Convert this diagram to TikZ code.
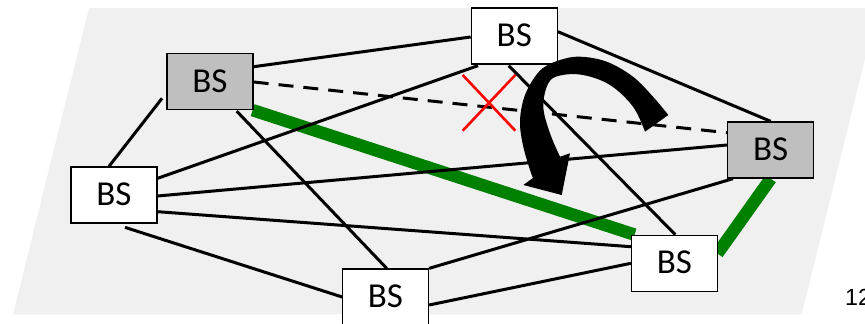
\documentclass[tikz,border=0pt]{standalone}
\usepackage{fontspec}
\setmainfont{Carlito}
\newfontfamily\pagefont{Liberation Sans}
\usetikzlibrary{calc}
\pgfdeclarelayer{bg}
\pgfsetlayers{bg,main}
\definecolor{bggray}{HTML}{F0F0F0}
\definecolor{boxgray}{HTML}{BFBFBF}
\definecolor{linkgreen}{HTML}{008000}
\tikzset{
  bsbox/.style={draw=black, line width=1.3pt, fill=white, minimum width=86pt, minimum height=56pt, inner sep=0pt, text depth=1.5pt, font=\fontsize{35}{40}\selectfont},
  bsgray/.style={bsbox, fill=boxgray},
  link/.style={line width=3pt, black},
  deadlink/.style={line width=3pt, black, dash pattern=on 15pt off 10pt},
  greenlink/.style={line width=12.5pt, linkgreen},
  cross/.style={line width=2.6pt, red},
}
\begin{document}
\begin{tikzpicture}[x=1pt, y=-1pt]
\useasboundingbox (0,0) rectangle (865,324);
% nodes
\node[bsbox]  (top) at (514.3,36)    {BS};
\node[bsgray] (tl)  at (210,81.5)    {BS};
\node[bsbox]  (lf)  at (114,195)     {BS};
\node[bsbox]  (bt)  at (385.5,297)   {BS};
\node[bsgray] (rg)  at (770.7,150)   {BS};
\node[bsbox]  (br)  at (674.5,263.3) {BS};
\begin{pgfonlayer}{bg}
  \fill[bggray] (89,8) -- (877.6,8) -- (801.7,314.3) -- (13,314.3) -- cycle;
  % green links
  \draw[greenlink] ($(tl.south east)+(-1,0)$) -- ($(br.north west)+(3.7,0)$);
  \draw[greenlink] (rg.south) -- ($(br.east)+(-0.7,-9.8)$);
  % black links
  \draw[link] ($(tl.east)+(0,-14.8)$) -- ($(top.west)+(0,1)$);
  \draw[deadlink] ($(tl.east)+(0,0.5)$) -- ($(rg.west)+(0,-17.3)$);
  \draw[link] ($(tl.south)+(26.7,1)$) -- ($(bt.north)+(1.2,0)$);
  \draw[link] ($(lf.north)+(-5,0)$) -- ($(tl.west)+(-4.3,16.8)$);
  \draw[link] ($(lf.east)+(0,-16.7)$) -- ($(top.south west)+(7.4,1)$);
  \draw[link] ($(lf.east)+(0,1)$) -- ($(rg.west)+(0,-5)$);
  \draw[link] ($(lf.east)+(0,16.7)$) -- ($(br.west)+(0,-16.6)$);
  \draw[link] ($(lf.south)+(11,3.7)$) -- ($(bt.west)+(0.3,0)$);
  \draw[link] ($(top.south)+(-5.6,1)$) -- ($(br.north)+(0.8,0)$);
  \draw[link] ($(top.east)+(0,-4.3)$) -- (rg.north);
  \draw[link] ($(rg.south west)+(6,0)$) -- (bt.north east);
  \draw[link] (br.west) -- ($(bt.east)+(0,8)$);
\end{pgfonlayer}
% red cross
\draw[cross] (462.7,75) -- (515.3,130.7);
\draw[cross] (515.3,75) -- (462.7,130.7);
% curved arrow
\fill[black] plot[smooth, tension=0.6] coordinates {(668.3,115) (653,96.7) (633,76.7) (606.7,61.7) (580,56.7) (560,60) (543,68) (531.7,81.7) (523.3,100) (520,123) (523.3,146.7) (530,170) (533,178)}
  -- (523.3,185) -- (561.7,195) -- (570,153.3) -- (560,156.7)
  -- plot[smooth, tension=0.6] coordinates {(560,156.7) (550,133.3) (543.3,106.7) (548.3,83.3) (560,75.5) (583,75) (610,85) (633,106.7) (645,131.7)}
  -- cycle;
% page number (cut off at the right edge, as in the reference)
\node[anchor=base west, inner sep=0pt, font=\pagefont\fontsize{23.3}{28}\selectfont] (pg) at (845,305) {12};
\end{tikzpicture}
\end{document}
